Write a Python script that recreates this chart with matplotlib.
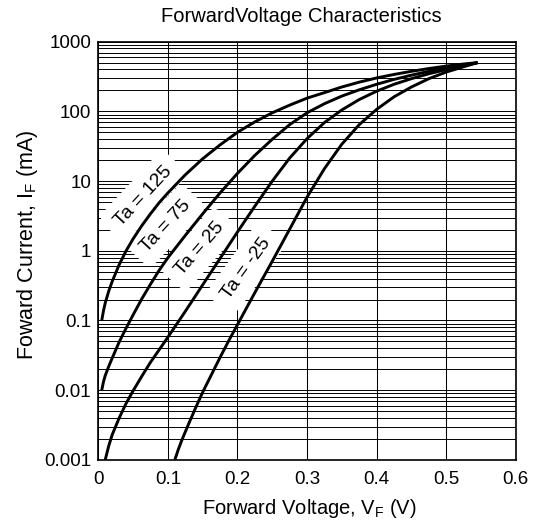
import matplotlib
matplotlib.use("Agg")
import matplotlib.pyplot as plt
from matplotlib.ticker import NullLocator

plt.rcParams['font.family'] = ['Liberation Sans', 'DejaVu Sans']
plt.rcParams['mathtext.fontset'] = 'custom'
plt.rcParams['mathtext.rm'] = 'Liberation Sans'
plt.rcParams['mathtext.it'] = 'Liberation Sans:italic'

# curves: forward voltage (V) vs forward current (mA)
vf_125 = [0.005, 0.0075, 0.01, 0.015, 0.02, 0.03, 0.04, 0.05, 0.0625, 0.075, 0.0875,
          0.1, 0.125, 0.15, 0.175, 0.2, 0.225, 0.25, 0.275, 0.3, 0.325, 0.35, 0.375,
          0.4, 0.425, 0.45, 0.475, 0.5, 0.525, 0.545]
if_125 = [0.1, 0.138, 0.178, 0.263, 0.363, 0.631, 1.0, 1.48, 2.29, 3.39, 4.9,
          6.76, 12.3, 20.9, 33.1, 50.1, 70.8, 95.5, 123, 155, 186, 224, 263,
          302, 339, 376, 412, 447, 479, 501]

vf_75 = [0.005, 0.0075, 0.01, 0.015, 0.02, 0.03, 0.04, 0.05, 0.0625, 0.075, 0.0875,
         0.1, 0.125, 0.15, 0.175, 0.2, 0.225, 0.25, 0.275, 0.3, 0.325, 0.35, 0.375,
         0.4, 0.425, 0.45, 0.475, 0.5, 0.525, 0.545]
if_75 = [0.01, 0.0132, 0.0162, 0.0219, 0.0288, 0.049, 0.0776, 0.12, 0.204, 0.331, 0.525,
         0.794, 1.66, 3.39, 6.76, 12.9, 23.4, 39.8, 64.6, 95.5, 129, 166, 204,
         245, 288, 331, 376, 417, 462, 501]

vf_25 = [0.01, 0.015, 0.02, 0.03, 0.04, 0.05, 0.0625, 0.075, 0.0875, 0.1, 0.125,
         0.15, 0.175, 0.2, 0.225, 0.25, 0.275, 0.3, 0.325, 0.35, 0.375, 0.4,
         0.425, 0.45, 0.475, 0.5, 0.525, 0.545]
if_25 = [0.001, 0.00158, 0.00229, 0.00398, 0.00646, 0.00977, 0.0158, 0.0251, 0.038, 0.0575, 0.135,
         0.324, 0.776, 1.86, 4.37, 10.0, 21.4, 40.7, 69.2, 105, 148, 195,
         245, 295, 347, 398, 452, 501]

vf_m25 = [0.11, 0.115, 0.12, 0.13, 0.14, 0.15, 0.1625, 0.175, 0.1875, 0.2, 0.225,
          0.25, 0.275, 0.3, 0.325, 0.35, 0.375, 0.4, 0.425, 0.45, 0.475, 0.5,
          0.525, 0.545]
if_m25 = [0.001, 0.00141, 0.00191, 0.00331, 0.00562, 0.00933, 0.0166, 0.0295, 0.0513, 0.0871, 0.251,
          0.708, 2.04, 5.89, 15.1, 33.9, 64.6, 107, 162, 224, 295, 367,
          437, 501]

labels = ["Ta = 125", "Ta = 75", "Ta = 25", "Ta = -25"]
label_x = [0.0645, 0.0966, 0.1457, 0.2126]
label_y = [6.1, 2.28, 1.06, 0.56]
label_rot = [47, 47, 49, 54]

yticks = [0.001, 0.01, 0.1, 1, 10, 100, 1000]
ytick_labels = ["0.001", "0.01", "0.1", "1", "10", "100", "1000"]
xticks = [0, 0.1, 0.2, 0.3, 0.4, 0.5, 0.6]
xtick_labels = ["0", "0.1", "0.2", "0.3", "0.4", "0.5", "0.6"]

fig = plt.figure(figsize=(5.34, 5.28), dpi=100)
ax = fig.add_axes([0.184, 0.129, 0.782, 0.792])

ax.set_yscale('log')
ax.set_xlim(0, 0.6)
ax.set_ylim(0.001, 1000)

# grid: every 1..9 line of each decade, and every 0.1 V
for dec in yticks[:-1]:
    for k in range(1, 10):
        ax.axhline(dec * k, color='black', lw=0.7, zorder=1)
ax.axhline(1000, color='black', lw=0.7, zorder=1)
for xv in xticks:
    ax.axvline(xv, color='black', lw=0.75, zorder=1)

for vf, cur in [(vf_125, if_125), (vf_75, if_75), (vf_25, if_25), (vf_m25, if_m25)]:
    ax.plot(vf, cur, color='black', lw=2.1, zorder=4,
            solid_capstyle='butt', solid_joinstyle='round')

for txt, x, y, rot in zip(labels, label_x, label_y, label_rot):
    ax.text(x, y, txt, rotation=rot, fontsize=14, ha='center', va='center',
            rotation_mode='anchor', zorder=3,
            bbox=dict(boxstyle='round,pad=0.5', fc='white', ec='none'))

ax.set_xticks(xticks)
ax.set_xticklabels(xtick_labels, fontsize=13.5)
ax.set_yticks(yticks)
ax.set_yticklabels(ytick_labels, fontsize=13.5)
ax.yaxis.set_minor_locator(NullLocator())
ax.tick_params(axis='y', length=0, pad=5)
ax.tick_params(axis='x', length=0, pad=8)
for s in ax.spines.values():
    s.set_linewidth(1.2)
    s.set_zorder(5)

fig.text(301 / 534, 1 - 17 / 528, "ForwardVoltage Characteristics", fontsize=14.5,
         ha='center', va='center')
fig.text(309 / 534, 1 - 508 / 528, "Forward Voltage, V$_\\mathrm{F}$ (V)", fontsize=14.5,
         ha='center', va='center')
fig.text(28 / 534, 1 - 245 / 528, "Foward Current, I$_\\mathrm{F}$ (mA)", fontsize=15.5,
         ha='center', va='center', rotation=90)

fig.savefig("out.png", dpi=100)
